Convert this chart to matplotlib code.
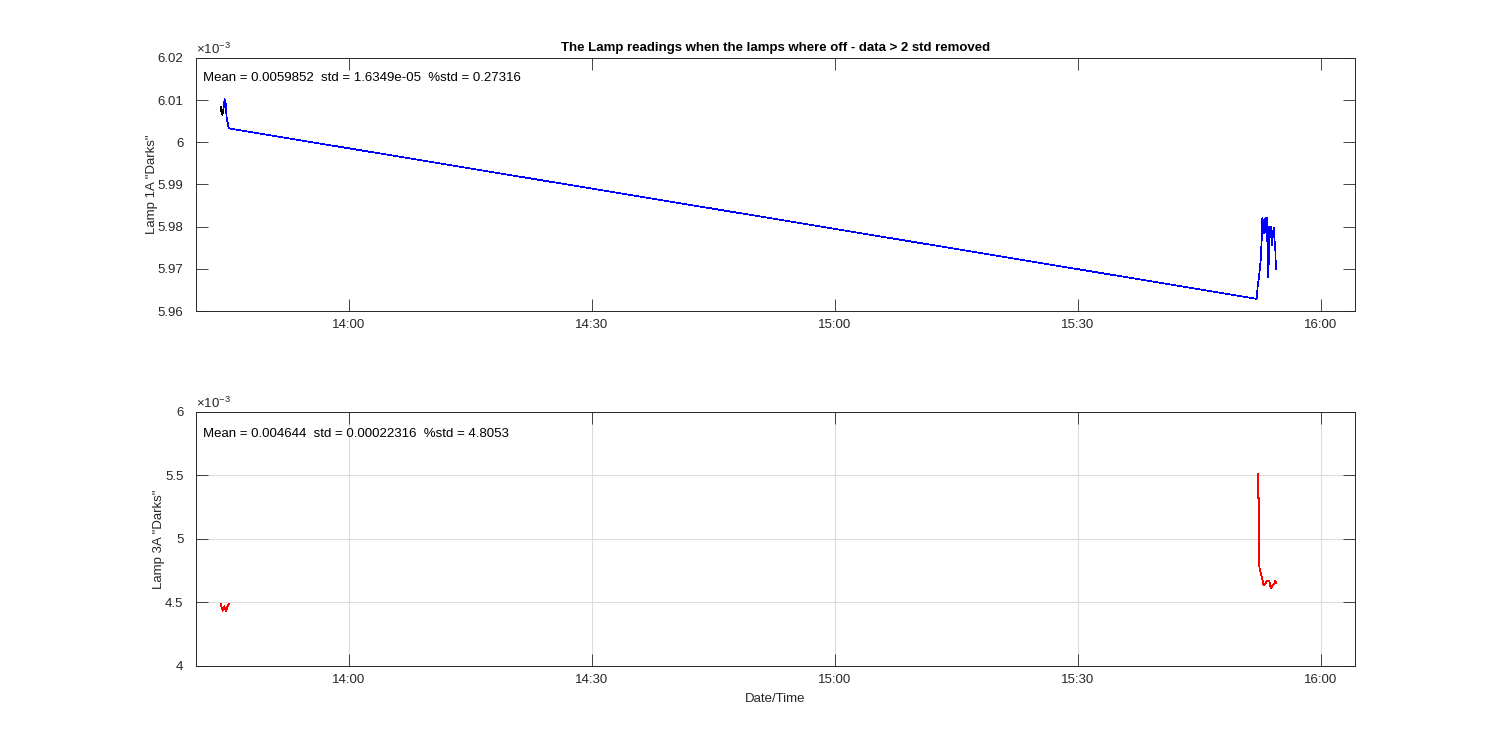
import numpy as np
import pandas as pd
import matplotlib
matplotlib.use("Agg")
import matplotlib.pyplot as plt
import matplotlib.dates as mdates
from matplotlib.ticker import FuncFormatter, MultipleLocator

plt.rcParams['font.family'] = ['Liberation Sans', 'DejaVu Sans']
plt.rcParams['mathtext.fontset'] = 'custom'
plt.rcParams['mathtext.rm'] = 'Liberation Sans'
plt.rcParams['mathtext.it'] = 'Liberation Sans'

# minutes relative to 14:00, values in lamp units (x1e-3)
lamp1_min = [-15.84, -15.74, -15.64, -15.49, -15.37, -15.25, -15.12, -14.85,
             112.06, 112.18, 112.35, 112.55, 112.68, 112.75, 112.84, 112.93,
             113.05, 113.13, 113.33, 113.42, 113.50, 113.58, 113.62, 113.79,
             113.87, 113.95, 114.04, 114.11, 114.20, 114.28, 114.36, 114.44]
lamp1_val = [6.0085, 6.0068, 6.0065, 6.0080, 6.0102, 6.0095, 6.0060, 6.0033,
             5.9629, 5.9656, 5.9681, 5.9717, 5.9767, 5.9820, 5.9785, 5.9817,
             5.9785, 5.9820, 5.9820, 5.9729, 5.9680, 5.9735, 5.9800, 5.9800,
             5.9775, 5.9757, 5.9790, 5.9776, 5.9798, 5.9765, 5.9750, 5.9700]
lamp1_raw_n = 4  # first points shown in black (unfiltered)

lamp3_min_a = [-15.84, -15.60, -15.43, -15.19, -14.94, -14.78]
lamp3_val_a = [4.486, 4.435, 4.470, 4.435, 4.480, 4.490]
lamp3_min_b = [112.26, 112.27, 112.38, 112.39, 112.51, 112.63, 112.75, 112.88,
               113.00, 113.12, 113.25, 113.37, 113.62, 113.74, 113.86, 113.99,
               114.11, 114.23, 114.36, 114.48]
lamp3_val_b = [5.512, 5.320, 5.320, 4.782, 4.743, 4.717, 4.690, 4.646,
               4.638, 4.646, 4.664, 4.672, 4.672, 4.630, 4.612, 4.630,
               4.638, 4.646, 4.672, 4.656]

stats1 = 'Mean = 0.0059852  std = 1.6349e-05  %std = 0.27316'
stats3 = 'Mean = 0.004644  std = 0.00022316  %std = 4.8053'

base = pd.Timestamp('2017-03-01 14:00:00')


def to_time(mins):
    return base + pd.to_timedelta(np.array(mins), unit='m')


def scaled(vals):
    return np.array(vals) * 1e-3


axc = '#262626'
lw = 0.5
fig = plt.figure(figsize=(15, 7.5), dpi=100)
ax1 = fig.add_axes([0.1307, 0.5853, 0.7726, 0.3374])
ax2 = fig.add_axes([0.1307, 0.1120, 0.7726, 0.3387])

t1 = to_time(lamp1_min)
v1 = scaled(lamp1_val)
ax1.plot(t1[:lamp1_raw_n], v1[:lamp1_raw_n], color='k', lw=lw, antialiased=False)
ax1.plot(t1[lamp1_raw_n - 1:], v1[lamp1_raw_n - 1:], color='b', lw=lw, antialiased=False)

ax2.plot(to_time(lamp3_min_a), scaled(lamp3_val_a), color='r', lw=lw, antialiased=False)
ax2.plot(to_time(lamp3_min_b), scaled(lamp3_val_b), color='r', lw=lw, antialiased=False)

fmt = FuncFormatter(lambda v, p: '%g' % round(v * 1e3, 6))
for ax in (ax1, ax2):
    ax.set_xlim(to_time([-18.89])[0], to_time([124.2])[0])
    ax.xaxis.set_major_locator(mdates.MinuteLocator(byminute=[0, 30]))
    ax.xaxis.set_major_formatter(mdates.DateFormatter('%H:%M'))
    ax.yaxis.set_major_formatter(fmt)
    ax.tick_params(direction='in', length=8.5, width=0.6, colors=axc,
                   labelsize=9.5, top=True, right=True)
    ax.tick_params(axis='y', pad=9)
    ax.tick_params(axis='x', pad=6)
    for s in ax.spines.values():
        s.set_color(axc)
        s.set_linewidth(0.7)
    ax.text(0.0, 1.004, r'$\times10^{-3}$', transform=ax.transAxes,
            fontsize=9.5, color=axc, va='bottom', ha='left')

ax1.set_ylim(5.96e-3, 6.02e-3)
ax1.yaxis.set_major_locator(MultipleLocator(0.01e-3))
ax2.set_ylim(4e-3, 6e-3)
ax2.yaxis.set_major_locator(MultipleLocator(0.5e-3))
ax2.grid(True, color='#dcdcdc', lw=0.8)
ax2.set_axisbelow(True)

ax1.set_ylabel('Lamp 1A "Darks"', fontsize=9.5, color=axc, labelpad=0)
ax2.set_ylabel('Lamp 3A "Darks"', fontsize=9.5, color=axc, labelpad=0)
ax2.set_xlabel('Date/Time', fontsize=9.5, color=axc, labelpad=5)
ax1.set_title('The Lamp readings when the lamps where off - data > 2 std removed',
              fontsize=9.5, fontweight='bold', pad=5)

ax1.text(0.006, 0.921, stats1, transform=ax1.transAxes, fontsize=9.5,
         va='center', ha='left')
ax2.text(0.006, 0.913, stats3, transform=ax2.transAxes, fontsize=9.5,
         va='center', ha='left')

fig.savefig('out.png', dpi=100)
